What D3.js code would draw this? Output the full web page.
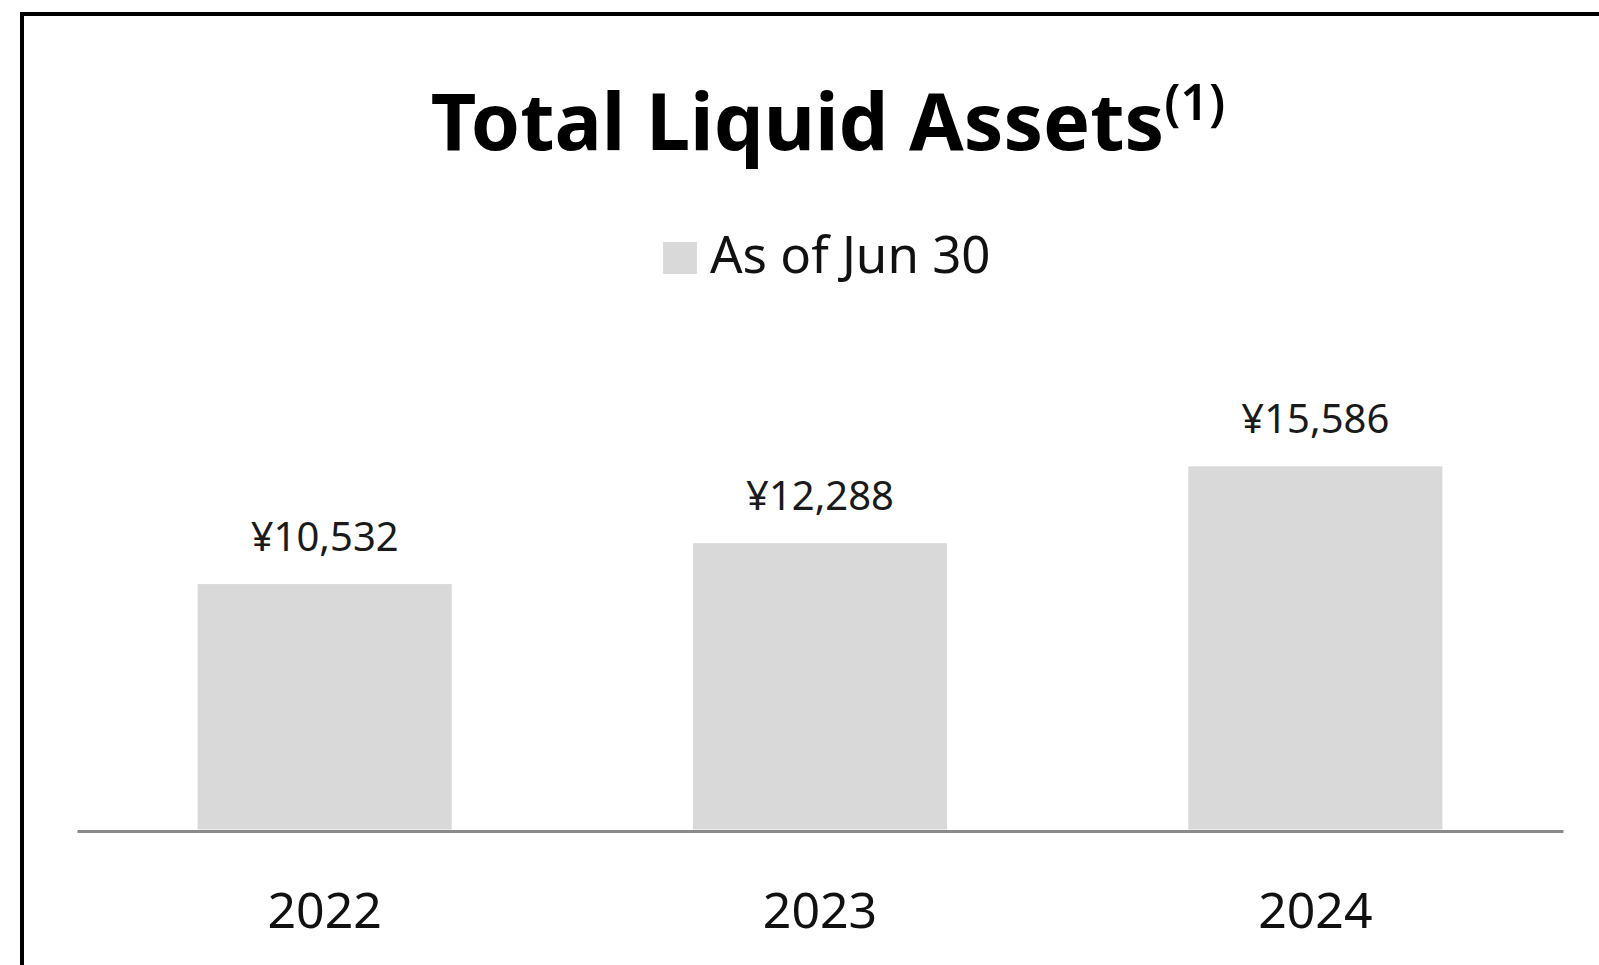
<!DOCTYPE html>
<html>
<head>
<meta charset="utf-8">
<script src="https://cdn.jsdelivr.net/npm/d3@7"></script>
<style>
  body { margin: 0; background: #fff; }
  text { font-family: "Noto Sans", "Open Sans", sans-serif; }
</style>
</head>
<body>
<div class="barchart"></div>
<script>
// chart data
var years = ["2022", "2023", "2024"];
var liquidAssets = [10532, 12288, 15586];
var seriesName = "As of Jun 30";
var chartTitle = "Total Liquid Assets";
var titleNote = "(1)";

function drawBars() {
    var w = 1599;
    var h = 965;
    var base = 829.5; // y of zero line

    var svg = d3.select(".barchart")
                .append("svg")
                .attr("width", w)
                .attr("height", h);

    // frame (only top and left edges are inside the picture)
    svg.append("rect")
        .attr("x", 22)
        .attr("y", 14)
        .attr("width", 1700)
        .attr("height", 1100)
        .attr("fill", "none")
        .attr("stroke", "#000")
        .attr("stroke-width", 4);

    var xScale = d3.scaleBand()
                   .domain(years)
                   .range([77, 1563])
                   .paddingInner(0.487)
                   .paddingOuter(0.2435);

    var yScale = d3.scaleLinear()
                   .domain([0, 20000])
                   .range([base, base - 466]);

    var data = years.map(function(d, i) { return {year: d, value: liquidAssets[i]}; });

    svg.selectAll(".bar")
        .data(data)
        .enter()
        .append("rect")
        .attr("class", "bar")
        .attr("x", function(d) { return xScale(d.year); })
        .attr("y", function(d) { return yScale(d.value); })
        .attr("width", xScale.bandwidth())
        .attr("height", function(d) { return base - yScale(d.value); })
        .attr("fill", "#d9d9d9");

    // value labels
    svg.selectAll(".val")
        .data(data)
        .enter()
        .append("text")
        .attr("class", "val")
        .attr("x", function(d) { return xScale(d.year) + xScale.bandwidth() / 2; })
        .attr("y", function(d) { return yScale(d.value) - 33; })
        .attr("text-anchor", "middle")
        .attr("font-size", 40)
        .attr("fill", "#1a1a1a")
        .text(function(d) { return "¥" + d3.format(",")(d.value); });

    // x axis
    var xAxis = d3.axisBottom().scale(xScale).tickSize(0).tickSizeOuter(0);
    var gx = svg.append("g")
        .attr("class", "xAxis")
        .attr("transform", "translate(0," + (base + 1.5) + ")")
        .call(xAxis);
    gx.select(".domain")
        .attr("stroke", "#8a8a8a")
        .attr("stroke-width", 3);
    gx.selectAll("text")
        .attr("y", 97)
        .attr("dy", null)
        .attr("font-size", 50)
        .attr("font-family", "Noto Sans")
        .attr("fill", "#111");

    // title
    var title = svg.append("text")
        .attr("x", 828)
        .attr("y", 150)
        .attr("text-anchor", "middle")
        .attr("fill", "#000");
    title.append("tspan")
        .attr("font-size", 79)
        .attr("font-weight", 700)
        .text(chartTitle);
    title.append("tspan")
        .attr("font-size", 50)
        .attr("font-weight", 600)
        .attr("dy", -30)
        .text(titleNote);

    // legend
    var legend = svg.append("g").attr("class", "legend");
    legend.append("rect")
        .attr("x", 663)
        .attr("y", 242)
        .attr("width", 34)
        .attr("height", 32)
        .attr("fill", "#d9d9d9");
    legend.append("text")
        .attr("x", 710)
        .attr("y", 273)
        .attr("font-size", 51)
        .attr("fill", "#111")
        .text(seriesName);
}

drawBars();
</script>
</body>
</html>
